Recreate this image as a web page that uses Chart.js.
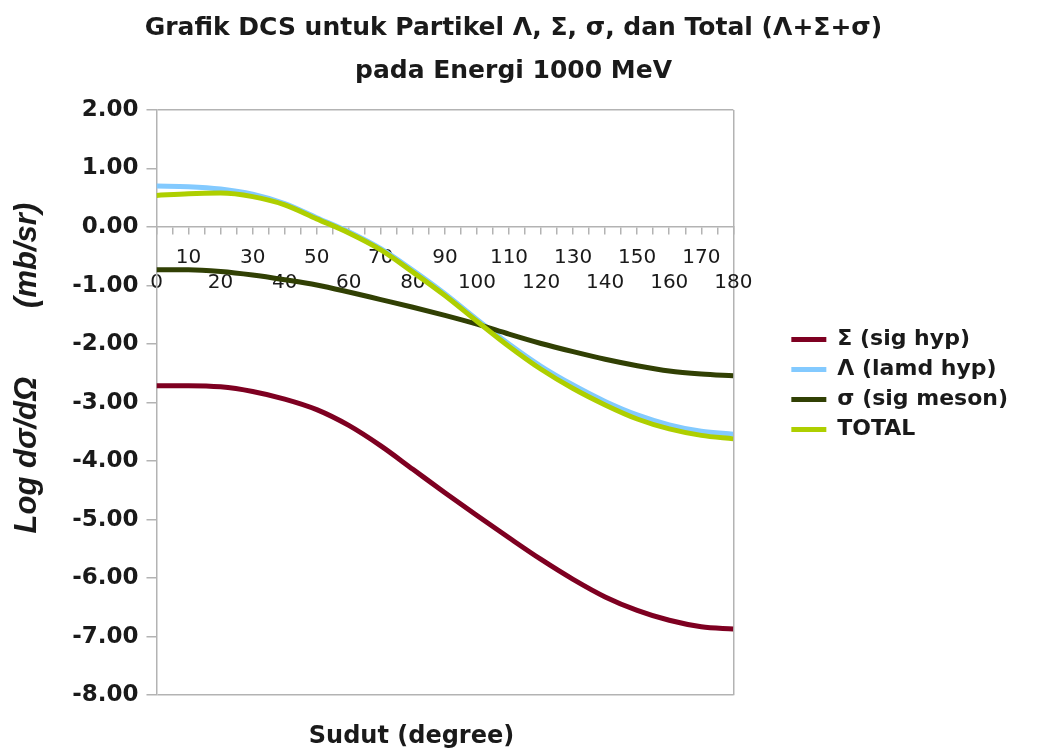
<!DOCTYPE html>
<html>
<head>
<meta charset="utf-8">
<title>Grafik DCS 1000 MeV</title>
<script src="https://cdn.jsdelivr.net/npm/chart.js@4.4.1/dist/chart.umd.min.js"></script>
<style>
  html, body { margin: 0; padding: 0; background: #fff; }
  canvas { display: block; }
</style>
</head>
<body>
<canvas id="myChart" width="1051" height="753"></canvas>
<script>
// sudut hamburan (derajat)
const angles = [0, 10, 20, 30, 40, 50, 60, 70, 80, 90, 100, 110, 120, 130, 140, 150, 160, 170, 180]
// log dσ/dΩ tiap partikel
const sigHyp = [-2.71, -2.71, -2.73, -2.81, -2.94, -3.12, -3.39, -3.74, -4.14, -4.54, -4.93, -5.31, -5.68, -6.02, -6.32, -6.55, -6.72, -6.83, -6.87]
const lamdHyp = [0.70, 0.69, 0.65, 0.56, 0.40, 0.16, -0.08, -0.37, -0.74, -1.14, -1.58, -2.00, -2.38, -2.70, -2.98, -3.21, -3.38, -3.49, -3.54]
const sigMeson = [-0.73, -0.73, -0.76, -0.82, -0.90, -0.99, -1.11, -1.24, -1.37, -1.51, -1.66, -1.83, -1.99, -2.13, -2.26, -2.37, -2.46, -2.51, -2.54]
const totalDcs = [0.54, 0.57, 0.58, 0.52, 0.38, 0.14, -0.10, -0.39, -0.77, -1.17, -1.61, -2.04, -2.43, -2.76, -3.04, -3.28, -3.45, -3.56, -3.62]

const seriesNames = ['Σ (sig hyp)', 'Λ (lamd hyp)', 'σ (sig meson)', 'TOTAL']
const seriesColors = ['#7e0021', '#83caff', '#314004', '#aecf00']

const axisGray = '#b3b3b3'
const textColor = '#1a1a1a'

const series = [sigHyp, lamdHyp, sigMeson, totalDcs]
const datasets = series.map((values, i) => ({
  label: seriesNames[i],
  data: values,
  borderColor: seriesColors[i],
  backgroundColor: seriesColors[i],
  borderWidth: 5,
  pointRadius: 0,
  cubicInterpolationMode: 'monotone',
  fill: false,
  order: series.length - 1 - i   // TOTAL paling atas
}))

new Chart(document.getElementById('myChart'), {
  type: 'line',
  data: { labels: angles, datasets },
  options: {
    responsive: false,
    animation: false,
    events: [],
    layout: { padding: { left: 9, right: 33, top: 16, bottom: 0 } },
    scales: {
      x: {
        type: 'linear',
        position: { y: 0 },
        min: 0,
        max: 180,
        grid: {
          color: c => c.tick && c.tick.value === 180 ? axisGray : 'rgba(0,0,0,0)',
          tickColor: axisGray,
          tickLength: 7,
          lineWidth: 1.5
        },
        border: { color: axisGray, width: 1.5 },
        ticks: {
          stepSize: 5,
          autoSkip: false,
          maxRotation: 0,
          minRotation: 0,
          padding: 11,
          color: textColor,
          font: { family: 'DejaVu Sans', size: 20, lineHeight: 1.25 },
          // label puluhan ganjil di baris atas, genap di baris bawah
          callback: v => v % 10 !== 0 ? '' : (v % 20 === 10 ? String(v) : ['', String(v)])
        }
      },
      xTitle: {
        type: 'linear',
        position: 'bottom',
        grid: { display: false },
        border: { display: false },
        ticks: { display: false },
        title: {
          display: true,
          text: 'Sudut (degree)' + ' '.repeat(8),
          color: textColor,
          font: { family: 'DejaVu Sans', size: 24, weight: 'bold', lineHeight: 1.2 },
          padding: { top: 19, bottom: 2 }
        }
      },
      y: {
        min: -8,
        max: 2,
        grid: {
          color: c => c.tick && (c.tick.value === 2 || c.tick.value === -8) ? axisGray : 'rgba(0,0,0,0)',
          tickColor: axisGray,
          tickLength: 10,
          lineWidth: 1.5
        },
        border: { color: axisGray, width: 1.5 },
        ticks: {
          stepSize: 1,
          padding: 8,
          color: textColor,
          font: { family: 'DejaVu Sans', size: 23, weight: 'bold' },
          callback: v => v.toFixed(2)
        },
        title: {
          display: true,
          text: ' '.repeat(8) + 'Log dσ/dΩ' + ' '.repeat(8) + '(mb/sr)',
          color: textColor,
          font: { family: 'Liberation Sans', size: 31, weight: 'bold', style: 'italic', lineHeight: 1.2 },
          padding: { top: 0, bottom: 18 }
        }
      },
      ySpacer: {
        type: 'linear',
        position: 'right',
        grid: { display: false },
        border: { display: false },
        ticks: { display: false },
        afterFit: s => { s.width = 50 }
      }
    },
    plugins: {
      title: {
        display: true,
        text: ['Grafik DCS untuk Partikel Λ, Σ, σ, dan Total (Λ+Σ+σ)', 'pada Energi 1000 MeV'],
        color: textColor,
        font: { family: 'DejaVu Sans', size: 25, weight: 'bold', lineHeight: 1.72 },
        padding: { top: -9, bottom: 17 }
      },
      legend: {
        position: 'right',
        align: 'center',
        maxWidth: 400,
        labels: {
          color: textColor,
          font: { family: 'DejaVu Sans', size: 22, weight: 'bold' },
          boxWidth: 35,
          boxHeight: 5,
          padding: 8,
          sort: (a, b) => a.datasetIndex - b.datasetIndex,
          generateLabels: chart => Chart.defaults.plugins.legend.labels.generateLabels(chart)
            .map(item => Object.assign(item, { lineWidth: 0 }))
        }
      },
      tooltip: { enabled: false }
    }
  }
})
</script>
</body>
</html>
